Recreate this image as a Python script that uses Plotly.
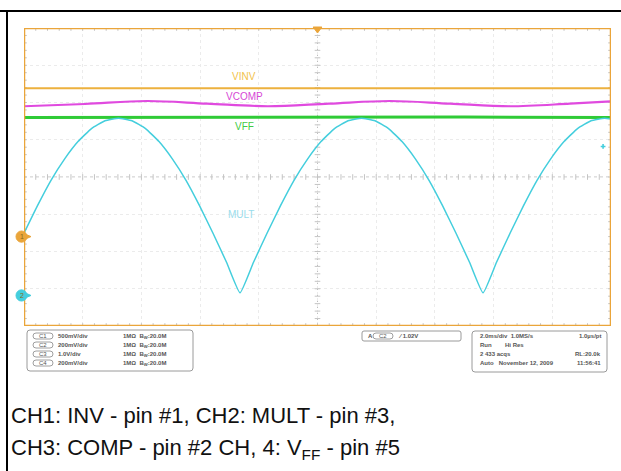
import numpy as np
import plotly.graph_objects as go

W, H = 621, 471
# plot area in pixels
PX0, PX1, PY0, PY1 = 24, 611, 28, 326

# ---------------- data (x: time in ms, 2 ms/div; y: screen divisions) -------------
mult_t = [0.00, 0.46, 0.92, 1.38, 1.84, 2.30, 2.76, 3.22, 3.68, 4.14, 4.60, 5.06, 5.52,
          5.98, 6.44, 6.90, 7.36, 7.82, 8.28, 8.74, 9.20, 9.66, 10.12, 10.58, 11.04,
          11.50, 11.96, 12.42, 12.88, 13.34, 13.80, 14.26, 14.72, 15.18, 15.64, 16.10,
          16.56, 17.02, 17.48, 17.94, 18.40, 18.86, 19.32, 19.78, 20.00]
mult_v = [-1.51, -0.77, -0.09, 0.48, 0.95, 1.30, 1.51, 1.58, 1.51, 1.30, 0.95, 0.48, -0.09,
          -0.77, -1.51, -2.29, -3.11, -2.29, -1.51, -0.77, -0.09, 0.48, 0.95, 1.30, 1.51,
          1.58, 1.51, 1.30, 0.95, 0.48, -0.09, -0.77, -1.51, -2.29, -3.11, -2.29,
          -1.51, -0.77, -0.09, 0.48, 0.95, 1.30, 1.51, 1.58, 1.56]

vinv_t = [0.0, 5.8, 6.13, 6.5, 8.3, 8.64, 9.0, 14.0, 14.34, 14.7, 16.5, 16.83, 17.2, 20.0]
vinv_v = [2.38, 2.38, 2.40, 2.38, 2.38, 2.395, 2.38, 2.38, 2.40, 2.38, 2.38, 2.395, 2.38, 2.38]

vcomp_t = [0.0, 2.08, 4.19, 6.24, 8.31, 10.39, 12.47, 14.51, 16.56, 18.60, 20.0]
vcomp_v = [1.90, 1.96, 2.04, 1.97, 1.90, 1.97, 2.04, 1.97, 1.90, 1.97, 2.03]

vff_t = [0.0, 5.0, 10.0, 15.0, 20.0]
vff_v = [1.60, 1.61, 1.60, 1.61, 1.60]

# channel ground markers (divisions)
ch1_ref = -1.60
ch2_ref = -3.18
trig_level = 0.82

labels = ["VINV", "VCOMP", "VFF", "MULT"]
label_pos = [(7.5, 2.7), (7.5, 2.16), (7.5, 1.35), (7.4, -1.0)]

ch_rows = [("C1", "500mV/div"), ("C2", "200mV/div"), ("C3", "1.0V/div"), ("C4", "200mV/div")]
info_rows = [("2.0ms/div  1.0MS/s", "1.0µs/pt"), ("Run        Hi Res", ""),
             ("2 433 acqs", "RL:20.0k"), ("Auto   November 12, 2009", "11:56:41")]
caption1 = "CH1: INV - pin #1, CH2: MULT - pin #3,"
caption2 = "CH3: COMP - pin #2 CH, 4: V<sub>FF</sub> - pin #5"

# colours
ORANGE = "#EAA53A"
VINV_C = "#EDB13E"
MAG = "#E04ADF"
GREEN = "#2FCB36"
CYAN = "#44CEDD"

fig = go.Figure()

# graticule minor ticks along centre lines and frame edges
tx = np.arange(0, 20.001, 0.4)
ty = np.arange(-4, 4.001, 0.2)
tick_col = "#C4C4C4"
fig.add_trace(go.Scatter(x=np.concatenate([tx, tx, tx]),
                         y=np.concatenate([np.zeros_like(tx), np.full_like(tx, 4.0), np.full_like(tx, -4.0)]),
                         mode="markers", hoverinfo="skip", showlegend=False,
                         marker=dict(symbol="line-ns", size=4, line=dict(color=tick_col, width=1))))
fig.add_trace(go.Scatter(x=np.concatenate([np.full_like(ty, 10.0), np.zeros_like(ty), np.full_like(ty, 20.0)]),
                         y=np.concatenate([ty, ty, ty]),
                         mode="markers", hoverinfo="skip", showlegend=False,
                         marker=dict(symbol="line-ew", size=4, line=dict(color=tick_col, width=1))))

# waveforms
fig.add_trace(go.Scatter(x=vinv_t, y=vinv_v, mode="lines", line=dict(color=VINV_C, width=2),
                         showlegend=False, name="VINV"))
fig.add_trace(go.Scatter(x=vcomp_t, y=vcomp_v, mode="lines", line=dict(color=MAG, width=2.2, shape="spline"),
                         showlegend=False, name="VCOMP"))
fig.add_trace(go.Scatter(x=vff_t, y=vff_v, mode="lines", line=dict(color=GREEN, width=3),
                         showlegend=False, name="VFF"))
fig.add_trace(go.Scatter(x=mult_t, y=mult_v, mode="lines",
                         line=dict(color=CYAN, width=1.5, shape="spline", smoothing=0.4),
                         showlegend=False, name="MULT"))

# trigger level marker
fig.add_trace(go.Scatter(x=[19.73], y=[trig_level], mode="markers", showlegend=False, hoverinfo="skip",
                         marker=dict(symbol="cross", size=4, color=CYAN)))

# waveform labels
label_cols = ["#F2C24A", "#D646D6", "#3FCB45", "#9ADCEB"]
for (lx, ly), txt, c in zip(label_pos, labels, label_cols):
    fig.add_annotation(x=lx, y=ly, text=txt, showarrow=False, xanchor="center", yanchor="middle",
                       font=dict(family="Liberation Sans, Arial", size=10, color=c))

shapes = []
# centre lines
shapes.append(dict(type="line", xref="x", yref="y", x0=10, x1=10, y0=-4, y1=4,
                   line=dict(color="#BEBEBE", width=1, dash="dot"), layer="below"))
shapes.append(dict(type="line", xref="x", yref="y", x0=0, x1=20, y0=0, y1=0,
                   line=dict(color="#BEBEBE", width=1, dash="dot"), layer="below"))
# orange frame
shapes.append(dict(type="rect", xref="x", yref="y", x0=0, x1=20, y0=-4, y1=4,
                   line=dict(color=ORANGE, width=2.5)))


def px(x):
    return x / W


def py(y):
    return 1 - y / H


def rrect(x0, y0, x1, y1, r, color="#9a9a9a", width=1):
    p = (f"M {px(x0 + r)} {py(y0)} L {px(x1 - r)} {py(y0)} Q {px(x1)} {py(y0)} {px(x1)} {py(y0 + r)} "
         f"L {px(x1)} {py(y1 - r)} Q {px(x1)} {py(y1)} {px(x1 - r)} {py(y1)} "
         f"L {px(x0 + r)} {py(y1)} Q {px(x0)} {py(y1)} {px(x0)} {py(y1 - r)} "
         f"L {px(x0)} {py(y0 + r)} Q {px(x0)} {py(y0)} {px(x0 + r)} {py(y0)} Z")
    return dict(type="path", xref="paper", yref="paper", path=p, line=dict(color=color, width=width))


# channel ground markers (circle + pointer), placed through the y axis scale
for ref, col, num in [(ch1_ref, ORANGE, "1"), (ch2_ref, CYAN, "2")]:
    shapes.append(dict(type="circle", xref="paper", yref="y", x0=px(16), x1=px(27),
                       y0=ref - 0.15, y1=ref + 0.15, fillcolor=col, line=dict(color=col, width=1)))
    shapes.append(dict(type="path", xref="paper", yref="y",
                       path=f"M {px(25)} {ref + 0.07} L {px(31)} {ref} L {px(25)} {ref - 0.07} Z",
                       fillcolor=col, line=dict(color=col, width=1)))
    fig.add_annotation(x=px(21.5), y=ref, xref="paper", yref="y", text=num, showarrow=False,
                       xanchor="center", yanchor="middle",
                       font=dict(family="Liberation Sans, Arial", size=7, color="#8a6a20"))

# trigger position marker at top
shapes.append(dict(type="path", xref="x", yref="paper",
                   path=f"M 9.85 {py(27)} L 10.15 {py(27)} L 10 {py(33)} Z",
                   fillcolor=ORANGE, line=dict(color=ORANGE, width=1)))

# black document frame lines
shapes.append(dict(type="line", xref="paper", yref="paper", x0=0, x1=1, y0=py(11), y1=py(11),
                   line=dict(color="black", width=2)))
shapes.append(dict(type="line", xref="paper", yref="paper", x0=px(7), x1=px(7), y0=py(10), y1=0,
                   line=dict(color="black", width=2)))

# info boxes
shapes.append(rrect(27, 330, 193, 371, 3))
shapes.append(rrect(362, 331, 461, 341, 2))
shapes.append(rrect(472, 331, 607, 372, 3))

small = dict(family="Liberation Sans, Arial", size=6, color="#555555")
row_y = [336, 345, 354, 363]
for (ch, scale), yy in zip(ch_rows, row_y):
    shapes.append(rrect(33, yy - 3, 53, yy + 3, 3, color="#888888", width=0.8))
    fig.add_annotation(x=px(43), y=py(yy), xref="paper", yref="paper", text=ch, showarrow=False,
                       xanchor="center", yanchor="middle", font=small)
    fig.add_annotation(x=px(56), y=py(yy), xref="paper", yref="paper", text="<b>" + scale + "</b>",
                       showarrow=False, xanchor="left", yanchor="middle", font=small)
    fig.add_annotation(x=px(121), y=py(yy), xref="paper", yref="paper",
                       text="<b>1MΩ  B<sub>W</sub>:20.0M</b>", showarrow=False, xanchor="left",
                       yanchor="middle", font=small)

shapes.append(rrect(373, 333, 393, 339, 3, color="#888888", width=0.8))
fig.add_annotation(x=px(366), y=py(336), xref="paper", yref="paper", text="<b>A</b>", showarrow=False,
                   xanchor="left", yanchor="middle", font=small)
fig.add_annotation(x=px(383), y=py(336), xref="paper", yref="paper", text="C2", showarrow=False,
                   xanchor="center", yanchor="middle", font=small)
fig.add_annotation(x=px(396), y=py(336), xref="paper", yref="paper", text="<b>∕ 1.02V</b>",
                   showarrow=False, xanchor="left", yanchor="middle", font=small)

for (lt, rt), yy in zip(info_rows, row_y):
    fig.add_annotation(x=px(478), y=py(yy), xref="paper", yref="paper", text="<b>" + lt + "</b>",
                       showarrow=False, xanchor="left", yanchor="middle", font=small)
    if rt:
        fig.add_annotation(x=px(603), y=py(yy), xref="paper", yref="paper", text="<b>" + rt + "</b>",
                           showarrow=False, xanchor="right", yanchor="middle", font=small)

# captions
cap_font = dict(family="Liberation Sans, Arial", size=22, color="#111111")
fig.add_annotation(x=px(9), y=py(415), xref="paper", yref="paper", text=caption1, showarrow=False,
                   xanchor="left", yanchor="middle", font=cap_font)
fig.add_annotation(x=px(9), y=py(449), xref="paper", yref="paper", text=caption2, showarrow=False,
                   xanchor="left", yanchor="middle", font=cap_font)

fig.update_layout(
    width=W, height=H, margin=dict(l=0, r=0, t=0, b=0),
    paper_bgcolor="white", plot_bgcolor="white", shapes=shapes, showlegend=False,
    xaxis=dict(domain=[px(PX0), px(PX1)], range=[0, 20], showticklabels=False, zeroline=False,
               dtick=2, tick0=0, showgrid=True, gridcolor="#EBEBEB", griddash="dot", gridwidth=1,
               fixedrange=True),
    yaxis=dict(domain=[py(PY1), py(PY0)], range=[-4, 4], showticklabels=False, zeroline=False,
               dtick=1, tick0=0, showgrid=True, gridcolor="#EBEBEB", griddash="dot", gridwidth=1,
               fixedrange=True),
)

fig.write_html("out.html")
